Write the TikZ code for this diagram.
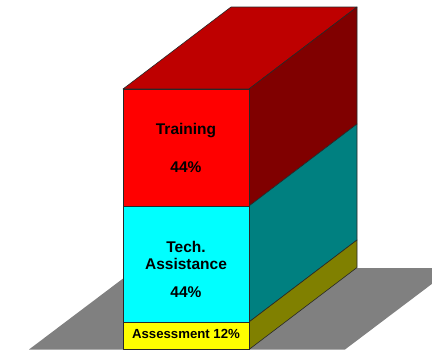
\documentclass[tikz,border=0pt]{standalone}
\usepackage{fontspec}
\setmainfont{Liberation Sans}
\definecolor{topred}{RGB}{190,0,0}
\definecolor{sidered}{RGB}{128,0,0}
\definecolor{frontcyan}{RGB}{0,255,255}
\definecolor{sideteal}{RGB}{0,128,128}
\definecolor{frontyellow}{RGB}{255,255,0}
\definecolor{sideolive}{RGB}{128,128,0}
\definecolor{floorgray}{RGB}{128,128,128}
\definecolor{edgecol}{RGB}{40,40,40}
\begin{document}
\begin{tikzpicture}[x=1pt,y=-1pt,
  face/.style={draw=edgecol,line width=0.6pt,line join=round},
  lbl/.style={font=\bfseries\fontsize{15.5}{17}\selectfont,text=black,align=center,inner sep=0pt},
  smalllbl/.style={font=\bfseries\fontsize{13.2}{15}\selectfont,text=black,inner sep=0pt}]
\useasboundingbox (0,0) rectangle (432,354);
% floor
\begin{scope}
\clip (0,0) rectangle (432,354);
\fill[floorgray] (29,349.5) -- (345,349.5) -- (453,268) -- (137,268) -- cycle;
\end{scope}
% top face
\path[face,fill=topred] (123,89) -- (249,89) -- (357,7) -- (231,7) -- cycle;
% right faces
\path[face,fill=sidered] (249,89) -- (357,7) -- (357,124) -- (249,206) -- cycle;
\path[face,fill=sideteal] (249,206) -- (357,124) -- (357,240) -- (249,322) -- cycle;
\path[face,fill=sideolive] (249,322) -- (357,240) -- (357,267.5) -- (249,349.5) -- cycle;
% front faces
\path[face,fill=red] (123,89) rectangle (249,206);
\path[face,fill=frontcyan] (123,206) rectangle (249,322);
\path[face,fill=frontyellow] (123,322) rectangle (249,349.5);
% labels
\node[lbl] (train) at (186,131) {Training};
\node[lbl] (trainpct) at (186,167) {44\%};
\node[lbl] (tech) at (186,255.5) {Tech.\\Assistance};
\node[lbl] (techpct) at (186,292) {44\%};
\node[smalllbl] (assess) at (186,334) {Assessment 12\%};
\end{tikzpicture}
\end{document}
